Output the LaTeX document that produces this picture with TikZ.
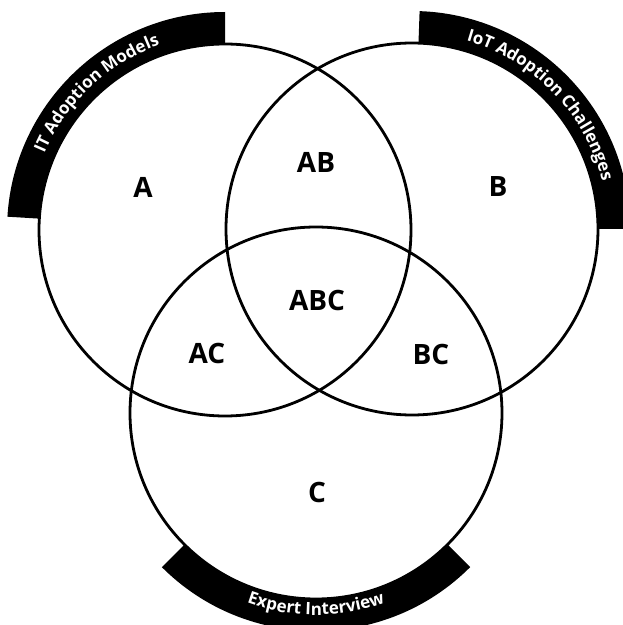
\documentclass[tikz,border=0pt]{standalone}
\usepackage{fontspec}
\setmainfont{Open Sans}
\usetikzlibrary{decorations.text}
\begin{document}
\begin{tikzpicture}[x=1pt,y=1pt,
  ring/.style={draw=black, line width=2.8pt},
  band/.style={fill=black},
  region/.style={font=\fontsize{28}{30}\selectfont\bfseries, inner sep=0pt},
  bandtext/.style={decorate, decoration={text along path, text align=center,
      text={|\fontsize{17}{19}\selectfont\bfseries\color{white}|#1}}}
]
\useasboundingbox[fill=white] (0,0) rectangle (623,625);
\clip (0,0) rectangle (623,625);

% circle centres
\coordinate (cA) at (225,395);
\coordinate (cB) at (412,396);
\coordinate (cC) at (316,212);

% black title bands hugging each circle
\fill[band] (cA) ++(176.5:218) arc[start angle=176.5, end angle=90, radius=218]
  -- ++(0,-32) arc[start angle=90, end angle=176.5, radius=186] -- cycle;
\fill[band] (cB) ++(88:218) arc[start angle=88, end angle=0, radius=218]
  -- ++(-32,0) arc[start angle=0, end angle=88, radius=186] -- cycle;
\fill[band] (cC) ++(225:186) arc[start angle=225, end angle=315, radius=186]
  -- ++(315:32) arc[start angle=315, end angle=225, radius=218] -- cycle;

% the three sets
\draw[ring] (cA) circle[radius=186];
\draw[ring] (cB) circle[radius=186];
\draw[ring] (cC) circle[radius=186];

% band titles
\path[bandtext=IT Adoption Models] (cA) ++(176.5:196)
  arc[start angle=176.5, end angle=90, radius=196];
\path[bandtext=IoT Adoption Challenges] (cB) ++(88:196)
  arc[start angle=88, end angle=0, radius=196];
\path[bandtext=Expert Interview] (cC) ++(225:202)
  arc[start angle=225, end angle=315, radius=202];

% region labels
\node[region] (lA)   at (143,438) {A};
\node[region] (lAB)  at (316,463) {AB};
\node[region] (lB)   at (498,438) {B};
\node[region] (lABC) at (317,324) {ABC};
\node[region] (lAC)  at (207,271) {AC};
\node[region] (lBC)  at (431,270) {BC};
\node[region] (lC)   at (317,133) {C};
\end{tikzpicture}
\end{document}
